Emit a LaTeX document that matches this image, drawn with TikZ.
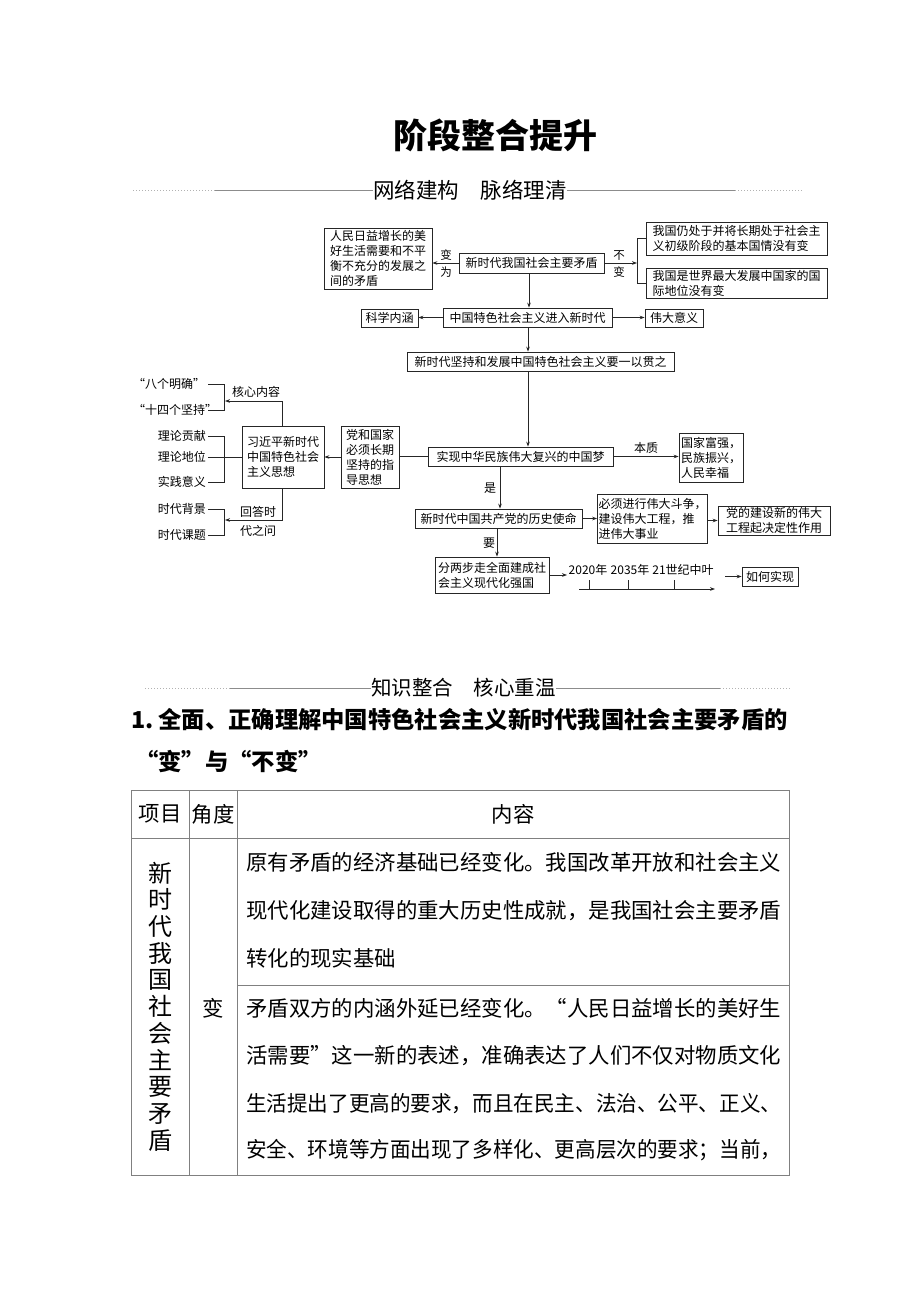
\documentclass[tikz,border=0pt]{standalone}
\usepackage{fontspec}
\newfontfamily\cjk{Noto Sans CJK SC}
\usetikzlibrary{arrows.meta,calc}
\newcommand\dgf{\cjk\fontsize{12}{15}\selectfont}
\newcommand\smf{\cjk\fontsize{11.5}{17}\selectfont}
\newcommand\tf{\cjk\fontsize{21.4}{25}\selectfont}
\newcommand\hdf{\cjk\fontsize{21.5}{25}\selectfont}
\newcommand\fitw[1]{\resizebox{535pt}{\height}{#1}}
\begin{document}
\begin{tikzpicture}[x=1pt,y=-1pt,
  box/.style={draw=black!85, line width=0.8pt, inner sep=0pt, font=\dgf, align=left},
  lbl/.style={font=\dgf, inner sep=0pt},
  slbl/.style={font=\smf, inner sep=0pt, align=center},
  arr/.style={draw=black!85, line width=0.7pt, -{Stealth[length=5pt,width=3.6pt]}},
  ln/.style={draw=black!85, line width=0.7pt},
  tbl/.style={draw=black!50, line width=0.9pt},
  tx/.style={font=\tf, inner sep=0pt, anchor=west},
  hline/.style={draw=black!45, line width=1pt},
  hdot/.style={draw=black!30, line width=1pt, dotted},
]
\fill[white] (0,0) rectangle (920,1302);
\useasboundingbox (0,0) rectangle (920,1302);

% title
\node[font={\cjk\fontsize{34}{40}\selectfont\bfseries}, inner sep=0pt] (title) at (495,135) {阶段整合提升};

% section header 1
\node[font=\hdf, inner sep=0pt] (sec1) at (470,190) {网络建构　脉络理清};
\coordinate (s1l0) at (133,190);
\coordinate (s1l1) at (215,190);
\coordinate (s1r1) at (735,190);
\coordinate (s1r0) at (803,190);
\draw[hdot] (s1l0) -- (s1l1);
\draw[hline] (s1l1) -- (sec1.west);
\draw[hline] (sec1.east) -- (s1r1);
\draw[hdot] (s1r1) -- (s1r0);

% diagram
\coordinate (sp1) at (529,0);
\coordinate (sp2) at (528,0);
\coordinate (sp3) at (500,0);
\coordinate (sp4) at (497,0);

\node[box, minimum width=145pt, minimum height=20pt] (n1) at (531.5,263) {新时代我国社会主要矛盾};
\node[box, minimum width=108pt, minimum height=61pt] (b1) at (378,258.5) {人民日益增长的美\\好生活需要和不平\\衡不充分的发展之\\间的矛盾};
\node[box, minimum width=181pt, minimum height=33pt] (r1) at (736.5,238.5) {我国仍处于并将长期处于社会主\\义初级阶段的基本国情没有变};
\node[box, minimum width=181pt, minimum height=30pt] (r2) at (736.5,283) {我国是世界最大发展中国家的国\\际地位没有变};
\node[slbl] (lbBW) at (446,264) {变\\为};
\node[slbl] (lbBB) at (619,264) {不\\变};
\draw[arr] (n1.west) -- (n1.west -| b1.east);
\coordinate (brk1) at (637,263);
\draw[arr] (n1.east) -- (brk1);
\draw[ln] (r1.west) -- (r1.west -| brk1) -- (r2.west -| brk1) -- (r2.west);

\node[box, minimum width=169pt, minimum height=19pt] (n2) at (527.5,317.5) {中国特色社会主义进入新时代};
\node[box, minimum width=57pt, minimum height=18pt] (sk) at (389.5,318) {科学内涵};
\node[box, minimum width=58pt, minimum height=18pt] (wd) at (674,318) {伟大意义};
\draw[arr] (n1.south -| sp1) -- (n2.north -| sp1);
\draw[arr] (n2.west) -- (n2.west -| sk.east);
\draw[arr] (n2.east) -- (n2.east -| wd.west);

\node[box, minimum width=267pt, minimum height=19pt] (n3) at (540.5,361.5) {新时代坚持和发展中国特色社会主义要一以贯之};
\node[box, minimum width=185pt, minimum height=19pt] (n4) at (520.5,456.5) {实现中华民族伟大复兴的中国梦};
\draw[arr] (n2.south -| sp2) -- (n3.north -| sp2);
\draw[arr] (n3.south -| sp2) -- (n4.north -| sp2);

\node[box, minimum width=64pt, minimum height=49pt] (e1) at (711,457.5) {国家富强，\\民族振兴，\\人民幸福};
\node[lbl] (lbBZ) at (646,448) {本质};
\draw[arr] (n4.east) -- (n4.east -| e1.west);

\node[box, minimum width=58pt, minimum height=62pt] (g1) at (370,457) {党和国家\\必须长期\\坚持的指\\导思想};
\node[box, minimum width=82pt, minimum height=62pt] (x1) at (283,457) {习近平新时代\\中国特色社会\\主义思想};
\draw[ln] (n4.west) -- (n4.west -| g1.east);
\draw[arr] (g1.west |- x1.east) -- (x1.east);

% core content
\coordinate (cc1) at (282,401);
\coordinate (cc2) at (225,401);
\draw[arr] (x1.north -| cc1) -- (cc1) -- (cc2);
\node[lbl] (lbHX) at (256,392) {核心内容};
\coordinate (ba1) at (208,384);
\coordinate (ba2) at (224,384);
\coordinate (ba3) at (224,410);
\coordinate (ba4) at (208,410);
\draw[ln] (ba1) -- (ba2) -- (ba3) -- (ba4);
\node[lbl, anchor=west] (bm) at (133,384) {“八个明确”};
\node[lbl, anchor=west] (sj) at (133,410) {“十四个坚持”};

% theory bracket
\coordinate (bt1) at (208,436);
\coordinate (bt2) at (224,436);
\coordinate (bt3) at (224,482);
\coordinate (bt4) at (208,482);
\coordinate (bt5) at (208,457);
\draw[ln] (bt1) -- (bt2) -- (bt3) -- (bt4);
\draw[ln] (bt5) -- (bt5 -| x1.west);
\node[lbl, anchor=east] (lg) at (206,436) {理论贡献};
\node[lbl, anchor=east] (ld) at (206,457) {理论地位};
\node[lbl, anchor=east] (sy) at (206,482) {实践意义};

% answer bracket
\coordinate (an1) at (282,520);
\coordinate (an2) at (225,520);
\draw[arr] (x1.south -| an1) -- (an1) -- (an2);
\node[font={\cjk\fontsize{12}{19}\selectfont}, inner sep=0pt, align=left] (lbHD) at (258,521) {回答时\\代之问};
\coordinate (bq1) at (208,509);
\coordinate (bq2) at (224,509);
\coordinate (bq3) at (224,535);
\coordinate (bq4) at (208,535);
\draw[ln] (bq1) -- (bq2) -- (bq3) -- (bq4);
\node[lbl, anchor=east] (bj) at (206,509) {时代背景};
\node[lbl, anchor=east] (kt) at (206,535) {时代课题};

% mission
\node[box, minimum width=167pt, minimum height=19pt] (n5) at (498.5,518.5) {新时代中国共产党的历史使命};
\node[lbl] (lbS) at (490,488) {是};
\draw[arr] (n4.south -| sp3) -- (n5.north -| sp3);
\node[box, minimum width=110pt, minimum height=49pt] (m1) at (652.5,518.5) {必须进行伟大斗争，\\建设伟大工程，推\\进伟大事业};
\node[box, minimum width=112pt, minimum height=29pt] (m2) at (774,520.5) {党的建设新的伟大\\工程起决定性作用};
\draw[arr] (n5.east) -- (n5.east -| m1.west);
\draw[arr] (m1.east |- m2.west) -- (m2.west);

\node[lbl] (lbY) at (489,543) {要};
\node[box, minimum width=114pt, minimum height=36pt] (n6) at (492,575) {分两步走全面建成社\\会主义现代化强国};
\draw[arr] (n5.south -| sp4) -- (n6.north -| sp4);
\coordinate (t0) at (567,575);
\draw[arr] (n6.east) -- (t0);
\coordinate (tl1) at (579,589);
\coordinate (tl2) at (715,589);
\draw[arr] (tl1) -- (tl2);
\coordinate (tk1) at (589,580);
\coordinate (tk2) at (628,580);
\coordinate (tk3) at (674,580);
\draw[ln] (tk1) -- (tk1 |- tl1);
\draw[ln] (tk2) -- (tk2 |- tl1);
\draw[ln] (tk3) -- (tk3 |- tl1);
\node[lbl] (y1) at (588,570) {2020年};
\node[lbl] (y2) at (630,570) {2035年};
\node[lbl] (y3) at (683,570) {21世纪中叶};
\node[box, minimum width=56pt, minimum height=19pt] (h1) at (770,576.5) {如何实现};
\coordinate (h0) at (725,576.5);
\draw[arr] (h0) -- (h1.west);

% section header 2
\node[font={\cjk\fontsize{20.5}{24}\selectfont}, inner sep=0pt] (sec2) at (463.5,688) {知识整合　核心重温};
\coordinate (s2l0) at (145,688);
\coordinate (s2l1) at (230,688);
\coordinate (s2r1) at (720,688);
\coordinate (s2r0) at (790,688);
\draw[hdot] (s2l0) -- (s2l1);
\draw[hline] (s2l1) -- (sec2.west);
\draw[hline] (sec2.east) -- (s2r1);
\draw[hdot] (s2r1) -- (s2r0);

% heading
\node[font={\cjk\fontsize{23.3}{28}\selectfont\bfseries}, inner sep=0pt, anchor=west] (hd1) at (131,720) {1.\kern5pt 全面、正确理解中国特色社会主义新时代我国社会主要矛盾的};
\node[font={\cjk\fontsize{23.3}{28}\selectfont\bfseries}, inner sep=0pt, anchor=west] (hd2) at (135,762) {“变”与“不变”};

% table
\draw[tbl] (131,790) rectangle (789,1175);
\draw[tbl] (131,838) -- (789,838);
\draw[tbl] (189,790) -- (189,1175);
\draw[tbl] (237,790) -- (237,1175);
\draw[tbl] (237,985) -- (789,985);
\node[font=\tf, inner sep=0pt] (th1) at (160,814) {项目};
\node[font=\tf, inner sep=0pt] (th2) at (213,814) {角度};
\node[font=\tf, inner sep=0pt] (th3) at (513,814) {内容};
\node[font={\cjk\fontsize{24}{26.7}\selectfont}, inner sep=0pt, align=center] (tv) at (160,1006.5) {新\\时\\代\\我\\国\\社\\会\\主\\要\\矛\\盾};
\node[font=\tf, inner sep=0pt] (tb) at (213,1008) {变};
\node[tx] (c1) at (246,862) {\fitw{原有矛盾的经济基础已经变化。我国改革开放和社会主义}};
\node[tx] (c2) at (246,911) {\fitw{现代化建设取得的重大历史性成就，是我国社会主要矛盾}};
\node[tx] (c3) at (246,958) {转化的现实基础};
\node[tx] (c4) at (246,1008) {\fitw{矛盾双方的内涵外延已经变化。“人民日益增长的美好生}};
\node[tx] (c5) at (246,1056) {\fitw{活需要”这一新的表述，准确表达了人们不仅对物质文化}};
\node[tx] (c6) at (246,1104) {\fitw{生活提出了更高的要求，而且在民主、法治、公平、正义、}};
\node[tx] (c7) at (246,1150) {\fitw{安全、环境等方面出现了多样化、更高层次的要求；当前，}};
\end{tikzpicture}
\end{document}
